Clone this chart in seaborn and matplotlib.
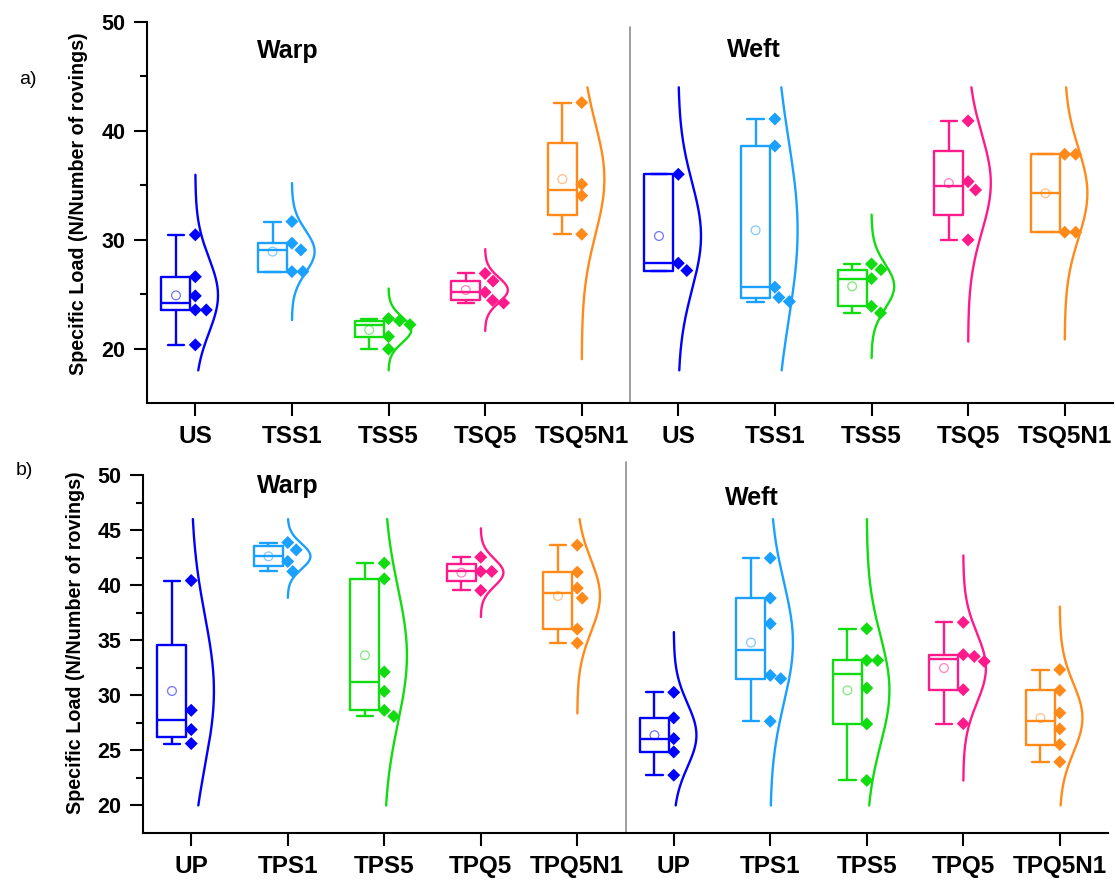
import numpy as np
import pandas as pd
import seaborn as sns
import matplotlib
matplotlib.use("Agg")
import matplotlib.pyplot as plt
from matplotlib.ticker import FixedLocator

# ---------------- data ----------------
groups_a = ["US", "TSS1", "TSS5", "TSQ5", "TSQ5N1"]
groups_b = ["UP", "TPS1", "TPS5", "TPQ5", "TPQ5N1"]
palette = ["#0000FF", "#1AA0FF", "#10DC10", "#FF1A8C", "#FF8A1A"]

# panel a) warp
a_warp_US = [30.45, 26.6, 24.84, 23.55, 23.55, 20.34]
a_warp_TSS1 = [31.67, 29.68, 29.06, 27.07, 27.07]
a_warp_TSS5 = [22.75, 22.55, 22.2, 21.1, 19.95]
a_warp_TSQ5 = [26.9, 26.2, 25.17, 24.43, 24.19]
a_warp_TSQ5N1 = [42.6, 35.1, 34.05, 30.5]
# panel a) weft
a_weft_US = [36.01, 27.84, 27.17]
a_weft_TSS1 = [41.09, 38.61, 25.64, 24.69, 24.32]
a_weft_TSS5 = [27.77, 27.25, 26.42, 23.88, 23.27]
a_weft_TSQ5 = [40.91, 35.34, 34.57, 29.98]
a_weft_TSQ5N1 = [37.85, 37.85, 30.69, 30.69]
# panel b) warp
b_warp_UP = [40.42, 28.64, 26.89, 25.62]
b_warp_TPS1 = [43.87, 43.2, 42.15, 41.24]
b_warp_TPS5 = [42.0, 40.57, 32.12, 30.36, 28.64, 28.1]
b_warp_TPQ5 = [42.54, 41.24, 41.24, 39.52]
b_warp_TPQ5N1 = [43.63, 41.18, 39.73, 38.82, 36.01, 34.74]
# panel b) weft
b_weft_UP = [30.27, 27.95, 26.07, 24.86, 22.75]
b_weft_TPS1 = [42.45, 38.82, 36.5, 31.81, 31.51, 27.64]
b_weft_TPS5 = [36.04, 33.17, 33.17, 30.66, 27.4, 22.27]
b_weft_TPQ5 = [36.62, 33.69, 33.53, 33.08, 30.51, 27.43]
b_weft_TPQ5N1 = [32.33, 30.45, 28.4, 26.95, 25.53, 23.96]

panel_a_values = [a_warp_US, a_warp_TSS1, a_warp_TSS5, a_warp_TSQ5, a_warp_TSQ5N1,
                  a_weft_US, a_weft_TSS1, a_weft_TSS5, a_weft_TSQ5, a_weft_TSQ5N1]
panel_b_values = [b_warp_UP, b_warp_TPS1, b_warp_TPS5, b_warp_TPQ5, b_warp_TPQ5N1,
                  b_weft_UP, b_weft_TPS1, b_weft_TPS5, b_weft_TPQ5, b_weft_TPQ5N1]
panel_a_ticks = groups_a + groups_a
panel_b_ticks = groups_b + groups_b
ylim_a = (15, 50)
ylim_b = (17.5, 50)
curve_clip_a = (18, 44)
curve_clip_b = (20, 46)

# ---------------- style ----------------
sns.set_theme(style="ticks")
plt.rcParams["font.family"] = ["Liberation Sans", "DejaVu Sans"]
plt.rcParams["font.weight"] = "bold"
for k in ("text.color", "axes.labelcolor", "xtick.color", "ytick.color",
          "axes.edgecolor"):
    plt.rcParams[k] = "black"

fig = plt.figure(figsize=(11.16, 8.81), dpi=100)
W, H = 1116, 881
ax_a = fig.add_axes([147 / W, 1 - 403 / H, (1113 - 147) / W, (403 - 22) / H])
ax_b = fig.add_axes([143 / W, 1 - 833 / H, (1108 - 143) / W, (833 - 475) / H])

LW = 1.7
BOX_OFF, BOX_W, CAP_W = -0.2, 0.3, 0.17
CURVE_W, CURVE_K = 0.235, 3.25


def swarm_offsets(ax, xpos, vals, dmin=11.0):
    """one-sided beeswarm: push points right (in pixel space) to avoid overlap"""
    order = np.argsort(vals)[::-1]
    placed = []
    offs = np.zeros(len(vals))
    sx = ax.transData.transform((1, 0))[0] - ax.transData.transform((0, 0))[0]
    for i in order:
        py = ax.transData.transform((0, vals[i]))[1]
        for dx in np.arange(0, 60, 0.5):
            if all(np.hypot(dx - qx, py - qy) >= dmin for qx, qy in placed):
                break
        placed.append((dx, py))
        offs[i] = dx / sx
    return xpos + offs


def draw_panel(ax, values, ticks, ylim, clip, major, minor):
    ax.set_xlim(-0.5, 9.5)
    ax.set_ylim(*ylim)
    rows = []
    stats = []
    for gi, vals in enumerate(values):
        v = np.asarray(vals, float)
        q1, med, q3 = np.percentile(v, [25, 50, 75], method="averaged_inverted_cdf")
        stats.append(dict(q1=q1, med=med, q3=q3, whislo=v.min(), whishi=v.max(),
                          mean=v.mean(), label=""))
        xs = swarm_offsets(ax, gi, v)
        for x, y in zip(xs, v):
            rows.append(dict(group=gi, x=x, value=y))
    pts = pd.DataFrame(rows)

    for gi, st in enumerate(stats):
        c = palette[gi % 5]
        ax.bxp([st], positions=[gi + BOX_OFF], widths=BOX_W, capwidths=CAP_W,
               showfliers=False, showmeans=False, patch_artist=False,
               boxprops=dict(color=c, lw=LW), whiskerprops=dict(color=c, lw=LW),
               capprops=dict(color=c, lw=LW), medianprops=dict(color=c, lw=LW),
               manage_ticks=False)
        # mean marker
        sns.scatterplot(x=[gi + BOX_OFF], y=[st["mean"]], ax=ax, marker="o", s=40,
                        color=c, facecolor="none", edgecolor=c, linewidth=0.9,
                        alpha=0.55, zorder=4, legend=False)
        # normal distribution curve
        v = np.asarray(values[gi], float)
        mu, sd = v.mean(), v.std(ddof=1)
        lo, hi = max(mu - CURVE_K * sd, clip[0]), min(mu + CURVE_K * sd, clip[1])
        yy = np.linspace(lo, hi, 300)
        xx = gi + CURVE_W * np.exp(-0.5 * ((yy - mu) / sd) ** 2)
        sns.lineplot(x=xx, y=yy, ax=ax, sort=False, estimator=None, color=c,
                     lw=LW, zorder=3)

    pts["color"] = pts["group"] % 5
    sns.scatterplot(data=pts, x="x", y="value", hue="color", palette=palette,
                    marker="D", s=44, edgecolor="none", linewidth=0, ax=ax,
                    legend=False, zorder=5)

    ax.set_xlim(-0.5, 9.5)
    ax.set_ylim(*ylim)
    ax.set_xticks(range(10))
    ax.set_xticklabels(ticks, fontsize=17.5, fontweight="bold")
    ax.yaxis.set_major_locator(FixedLocator(major))
    ax.yaxis.set_minor_locator(FixedLocator(minor))
    ax.set_yticklabels([f"{m:g}" for m in major], fontsize=15.5, fontweight="bold")
    for s in ("top", "right"):
        ax.spines[s].set_visible(False)
    for s in ("left", "bottom"):
        ax.spines[s].set_linewidth(1.5)
        ax.spines[s].set_color("black")
    ax.tick_params(axis="both", which="major", direction="out", length=9.5,
                   width=1.5, color="black")
    ax.tick_params(axis="x", pad=6)
    ax.tick_params(axis="y", pad=6)
    ax.tick_params(axis="y", which="minor", direction="out", length=5,
                   width=1.5, color="black")
    ax.set_xlabel("")
    ax.set_ylabel("Specific Load (N/Number of rovings)", fontsize=14.2,
                  fontweight="bold")
    ax.grid(False)


draw_panel(ax_a, panel_a_values, panel_a_ticks, ylim_a, curve_clip_a,
           [20, 30, 40, 50], [25, 35, 45])
draw_panel(ax_b, panel_b_values, panel_b_ticks, ylim_b, curve_clip_b,
           [20, 25, 30, 35, 40, 45, 50], [22.5, 27.5, 32.5, 37.5, 42.5, 47.5])

ax_a.yaxis.set_label_coords(-0.061, 0.522)
ax_b.yaxis.set_label_coords(-0.060, 0.532)

# separators between warp / weft
ax_a.axvline(4.5, ymin=0, ymax=0.987, color="#8c8c8c", lw=1.2, clip_on=False)
ax_b.axvline(4.5, ymin=0, ymax=1.036, color="#8c8c8c", lw=1.2, clip_on=False)

# annotations
ax_a.text(0.96, 46.7, "Warp", ha="center", va="baseline", fontsize=18, fontweight="bold")
ax_a.text(5.78, 46.8, "Weft", ha="center", va="baseline", fontsize=18, fontweight="bold")
ax_b.text(1.0, 48.37, "Warp", ha="center", va="baseline", fontsize=18, fontweight="bold")
ax_b.text(5.81, 47.28, "Weft", ha="center", va="baseline", fontsize=18, fontweight="bold")

fig.text(28 / W, 1 - 80 / H, "a)", ha="center", va="center", fontsize=14,
         fontweight="normal")
fig.text(24 / W, 1 - 470 / H, "b)", ha="center", va="center", fontsize=14,
         fontweight="normal")

fig.savefig("out.png", dpi=100)
